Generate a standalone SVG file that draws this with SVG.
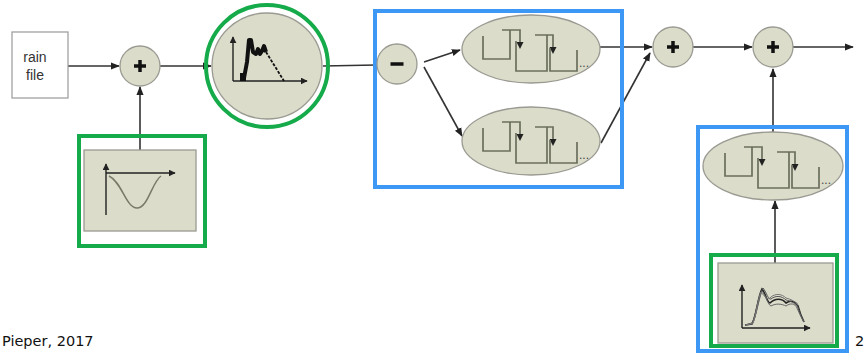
<svg xmlns="http://www.w3.org/2000/svg" width="867" height="354" viewBox="0 0 867 354">
<style>
.node{fill:#dcdccb;stroke:#9a9a92;stroke-width:1.3}
.conn{stroke:#333;stroke-width:1.6;fill:none}
.green{fill:none;stroke:#16ab4a;stroke-width:4}
.blue{fill:none;stroke:#3d97f5;stroke-width:4}
.stair{fill:none;stroke:#6a6f5c;stroke-width:1.7}
.axis{stroke:#222;stroke-width:1.4;fill:none}
.sign{stroke:#111;stroke-width:3.5}
.lbl{font-family:"Liberation Sans",Arial,sans-serif;font-size:14px;fill:#333}
.foot{font-family:"DejaVu Sans",Verdana,sans-serif;font-size:14.5px;fill:#111}
</style>
<defs>
<marker id="ah" viewBox="0 0 10 10" refX="9" refY="5" markerWidth="9" markerHeight="9" markerUnits="userSpaceOnUse" orient="auto">
<path d="M0,1 L10,5 L0,9 z" fill="#222"/>
</marker>
<marker id="sah" viewBox="0 0 10 10" refX="9" refY="5" markerWidth="7" markerHeight="7" markerUnits="userSpaceOnUse" orient="auto">
<path d="M0,0 L10,5 L0,10 z" fill="#222"/>
</marker>
<g id="stairs">
<path class="stair" d="M-48,-13 V10 H-21 V-19"/>
<path class="stair" d="M-29,-19 H-11 V-5"/>
<path d="M-14.5,-7 L-11,0 L-7.5,-7 z" fill="#222"/>
<path class="stair" d="M-15,-8 V22 H16 V-14"/>
<path class="stair" d="M4,-14 H22 V0"/>
<path d="M18.5,-2 L22,5 L25.5,-2 z" fill="#222"/>
<path class="stair" d="M19,-1 V22 H46 V1"/>
<text x="48" y="18" font-family="'Liberation Sans',sans-serif" font-size="12" fill="#444">...</text>
</g>
</defs>

<g id="connectors">
<line class="conn" x1="68" y1="66" x2="119" y2="66" marker-end="url(#ah)"/>
<line class="conn" x1="140" y1="150" x2="140" y2="87" marker-end="url(#ah)"/>
<line class="conn" x1="160" y1="66" x2="211" y2="66" marker-end="url(#ah)"/>
<line class="conn" x1="323" y1="66" x2="376" y2="65"/>
<line class="conn" x1="424" y1="62" x2="460" y2="50" marker-end="url(#ah)"/>
<line class="conn" x1="424" y1="67" x2="462" y2="136" marker-end="url(#ah)"/>
<line class="conn" x1="600" y1="47" x2="652" y2="47" marker-end="url(#ah)"/>
<line class="conn" x1="601" y1="143" x2="650" y2="53" marker-end="url(#ah)"/>
<line class="conn" x1="693" y1="47" x2="752" y2="47" marker-end="url(#ah)"/>
<line class="conn" x1="793" y1="47" x2="853" y2="47" marker-end="url(#ah)"/>
<line class="conn" x1="773" y1="132" x2="773" y2="69" marker-end="url(#ah)"/>
<line class="conn" x1="775" y1="263" x2="775" y2="201" marker-end="url(#ah)"/>
</g>

<g id="rain-file">
<rect x="12" y="32" width="56" height="66" fill="#fff" stroke="#999" stroke-width="1.2"/>
<text class="lbl" x="35" y="62" text-anchor="middle">rain</text>
<text class="lbl" x="35" y="80" text-anchor="middle">file</text>
</g>

<g id="sum1">
<circle class="node" cx="140" cy="66" r="20"/>
<line class="sign" x1="134" y1="66" x2="146" y2="66"/>
<line class="sign" x1="140" y1="60" x2="140" y2="72"/>
</g>

<g id="input-curve">
<rect class="green" x="79" y="136" width="126" height="110"/>
<rect class="node" x="84" y="150" width="112" height="81"/>
<line class="axis" x1="106" y1="215" x2="106" y2="164" marker-end="url(#sah)"/>
<line class="axis" x1="106" y1="173" x2="175" y2="173" marker-end="url(#sah)"/>
<path d="M109,176 C122,182 126,208 137,208 C148,208 152,182 161,176" fill="none" stroke="#777a66" stroke-width="1.5"/>
</g>

<g id="hydrograph">
<circle class="green" cx="267" cy="66" r="61"/>
<ellipse class="node" cx="267" cy="66" rx="55" ry="53"/>
<line class="axis" x1="233" y1="81" x2="233" y2="37" marker-end="url(#sah)"/>
<line class="axis" x1="233" y1="81" x2="307" y2="81" marker-end="url(#sah)"/>
<rect x="240" y="73" width="6" height="8" fill="#111"/>
<polyline points="244,78 247,62 249,40 251,40 253,52 256,54 258,49 260,54 262,51 264,46 266,52" fill="none" stroke="#111" stroke-width="4" stroke-linejoin="round"/>
<path d="M266,52 L284,81" stroke="#111" stroke-width="1.8" stroke-dasharray="3,1.5"/>
</g>

<g id="routing-block">
<rect class="blue" x="375" y="11" width="247" height="176"/>
</g>

<g id="minus">
<circle class="node" cx="397" cy="64" r="20"/>
<line class="sign" x1="390.5" y1="64" x2="403.5" y2="64"/>
</g>

<g id="reservoir-upper">
<ellipse class="node" cx="531" cy="49" rx="69" ry="34"/>
<use href="#stairs" x="531" y="49"/>
</g>

<g id="reservoir-lower">
<ellipse class="node" cx="531" cy="141" rx="69" ry="34"/>
<use href="#stairs" x="531" y="141"/>
</g>

<g id="sum2">
<circle class="node" cx="673" cy="47" r="20"/>
<line class="sign" x1="667" y1="47" x2="679" y2="47"/>
<line class="sign" x1="673" y1="41" x2="673" y2="53"/>
</g>

<g id="sum3">
<circle class="node" cx="773" cy="47" r="20"/>
<line class="sign" x1="767" y1="47" x2="779" y2="47"/>
<line class="sign" x1="773" y1="41" x2="773" y2="53"/>
</g>

<g id="baseflow-block">
<rect class="blue" x="698" y="127" width="149" height="224"/>
</g>

<g id="reservoir-right">
<ellipse class="node" cx="773" cy="166" rx="70" ry="34"/>
<use href="#stairs" x="773" y="166"/>
</g>

<g id="ensemble-curve">
<rect class="green" x="711" y="255" width="126" height="91"/>
<rect class="node" x="718" y="263" width="115" height="80"/>
<line class="axis" x1="742" y1="328" x2="742" y2="285" marker-end="url(#sah)"/>
<line class="axis" x1="742" y1="328" x2="810" y2="328" marker-end="url(#sah)"/>
<g fill="none" stroke-width="1">
<path d="M745,325 L752,324 C756,318 758,296 762,289 C766,294 767,303 770,303 C775,298 782,298 786,303 C790,300 796,301 798,306 C800,314 802,318 804,322" stroke="#222" stroke-width="1.6"/>
<path d="M745,325 L752,323 C756,316 758,295 763,288 C767,293 768,300 771,299 C776,295 782,296 786,300 C790,301 796,303 798,307 C800,314 802,318 804,322" stroke="#555"/>
<path d="M745,325 L752,324 C756,318 759,298 762,291 C766,296 768,305 771,306 C776,303 782,304 786,306 C790,303 795,303 797,308 C800,315 802,319 804,322" stroke="#666"/>
<path d="M746,325 L753,323 C756,316 758,298 761,292 C765,297 768,301 771,297 C776,293 782,294 786,298 C790,299 795,301 798,305" stroke="#777"/>
</g>
</g>

<text class="foot" x="2" y="346">Pieper, 2017</text>
<text class="foot" x="855" y="346">2</text>
</svg>
